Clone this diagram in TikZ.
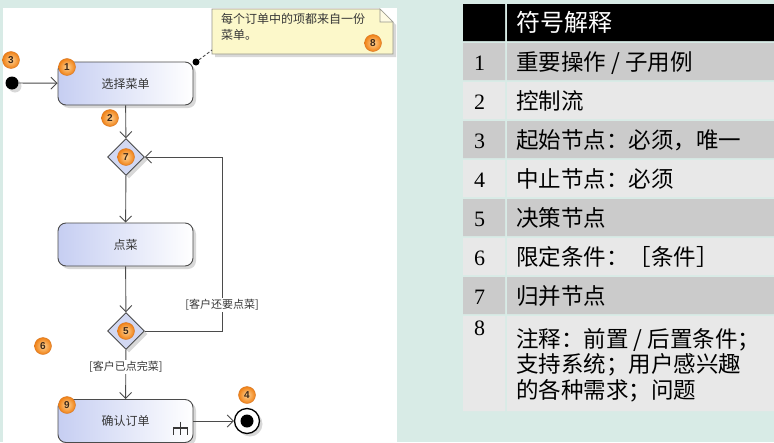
\documentclass[tikz,border=0pt]{standalone}
\usepackage{fontspec}
\setmainfont{Liberation Serif}
\newfontfamily\cjk{Noto Sans CJK SC}
\newfontfamily\badgefont{Liberation Sans}
\usetikzlibrary{shapes.geometric,shadows,arrows.meta}
\definecolor{bgteal}{RGB}{216,235,230}
\definecolor{rowdark}{RGB}{203,203,203}
\definecolor{rowlight}{RGB}{232,232,232}
\definecolor{linegray}{RGB}{75,75,75}
\definecolor{textgray}{RGB}{55,55,55}
\definecolor{actleft}{RGB}{198,206,242}
\definecolor{diafill}{RGB}{210,216,242}
\definecolor{notefill}{RGB}{252,248,202}
\definecolor{notegray}{RGB}{150,150,140}
\definecolor{badgein}{RGB}{255,212,150}
\definecolor{badgeout}{RGB}{240,128,20}
\definecolor{badgeedge}{RGB}{215,120,40}
\definecolor{badgetext}{RGB}{60,40,25}

\begin{document}
\begin{tikzpicture}[x=1pt,y=-1pt,
		shade/.style={drop shadow={shadow xshift=3pt,shadow yshift=-3pt,opacity=0.3}},
		flow/.style={draw=linegray, line width=0.9pt, -{Straight Barb[length=6pt,width=12pt,line width=0.9pt]}},
		action/.style={rectangle, rounded corners=8pt, draw=linegray, line width=0.9pt, left color=actleft, right color=white, minimum width=135pt, minimum height=43pt, text=textgray, font=\cjk\fontsize{12}{14}\selectfont, shade},
		choice/.style={diamond, draw=linegray, line width=0.9pt, fill=diafill, minimum width=37pt, minimum height=37pt, inner sep=0pt, shade},
		guard/.style={fill=white, inner sep=1pt, text=textgray, font=\cjk\fontsize{11}{13}\selectfont},
		badge/.style={circle, minimum size=17pt, inner sep=0pt, inner color=badgein, outer color=badgeout, draw=badgeedge, line width=0.4pt, text=badgetext, font=\badgefont\bfseries\fontsize{10}{10}\selectfont},
		cell/.style={anchor=base west, inner sep=0pt, font=\cjk\fontsize{22.5}{27.5}\selectfont}]

		\clip (0,0) rectangle (774,442);
		\fill[bgteal] (0,0) rectangle (774,442);
		\fill[white] (3,8) rectangle (397,442);

		% legend table
		\fill[black] (463,4) rectangle (505,41) (507,4) rectangle (774,41);
		\node[cell, text=white, font=\cjk\fontsize{24}{28}\selectfont] at (516,31)(head){符号解释};
		\foreach \k/\c/\txt in {1/rowdark/{重要操作 / 子用例},2/rowlight/控制流,3/rowdark/{起始节点：必须，唯一},
				4/rowlight/{中止节点：必须},5/rowdark/决策节点,6/rowlight/{限定条件：［条件］},7/rowdark/归并节点}{
			\fill[\c] (463,{4+39*\k}) rectangle (505,{41+39*\k}) (507,{4+39*\k}) rectangle (774,{41+39*\k});
			\node[cell, font=\fontsize{22}{26}\selectfont] at (474,{31.5+39*\k})(num\k){\k};
			\node[cell] at (516,{31.5+39*\k})(row\k){\txt};
		}
		\fill[rowlight] (463,316) rectangle (505,411) (507,316) rectangle (774,411);
		\node[cell, font=\fontsize{22}{26}\selectfont] at (474,335)(num8){8};
		\node[cell, anchor=north west, align=left, font=\cjk\fontsize{22.5}{25.5}\selectfont] at (516,328)(row8){注释：前置~/~后置条件；\\支持系统；用户感兴趣\\的各种需求；问题};

		% note
		\path[draw=notegray, fill=notefill, line width=0.6pt, shade]
			(212,9)--(380,9)--(393,22)--(393,54)--(212,54)--cycle;
		\draw[notegray, fill=white!50!notefill, line width=0.6pt] (380,9)--(380,22)--(393,22)--cycle;
		\node[anchor=north west, align=left, inner sep=0pt, text=textgray, font=\cjk\fontsize{12}{16}\selectfont] at (221,13)(note){每个订单中的项都来自一份\\菜单。};
		\coordinate (notecorner) at (212,50);

		% activity nodes
		\node[circle, fill=black, minimum size=13pt, inner sep=0pt, shade] at (12,83)(start){};
		\node[action] at (125.5,83.5)(choose){选择菜单};
		\node[choice] at (126,157)(merge){};
		\node[action] at (125.5,244.5)(order){点菜};
		\node[choice] at (126,331)(decide){};
		\node[action] at (125.5,421)(confirm){确认订单};
		\node[circle, draw=black, line width=1.3pt, fill=white, minimum size=25pt, inner sep=0pt, shade] at (247,421)(stop){};
		\node[circle, fill=black, minimum size=13pt, inner sep=0pt] at (stop)(stopdot){};
		\node[circle, fill=black, minimum size=7pt, inner sep=0pt] at (196,62)(pin){};
		\coordinate (loopa) at (222,331);
		\coordinate (loopb) at (222,157);

		\draw[flow] (start) -- (choose);
		\draw[flow] (choose) -- (merge);
		\draw[flow] (merge) -- (order);
		\draw[flow] (order) -- (decide);
		\draw[flow] (decide) -- node[guard, pos=0.35]{[客户已点完菜]} (confirm);
		\draw[flow] (decide) -- (loopa) -- node[guard, pos=0.15]{[客户还要点菜]} (loopb) -- (merge);
		\draw[flow] (confirm) -- (stop);
		\draw[linegray, line width=0.9pt, dash pattern=on 3pt off 2pt] (pin) -- (notecorner);

		% rake
		\draw[textgray, line width=1.8pt, shift={(confirm.south east)}]
			(-13,-21)--(-13,-8) (-20,-8)--(-20,-15)--(-6,-15)--(-6,-8);

		% numbered markers
		\node[badge] at (11,60)(b3){3};
		\node[badge] at (67,67)(b1){1};
		\node[badge] at (110,118)(b2){2};
		\node[badge] at (merge)(b7){7};
		\node[badge] at (decide)(b5){5};
		\node[badge] at (43,346)(b6){6};
		\node[badge] at (67,405)(b9){9};
		\node[badge] at (247,395)(b4){4};
		\node[badge] at (373,43)(b8){8};
	\end{tikzpicture}
\end{document}
